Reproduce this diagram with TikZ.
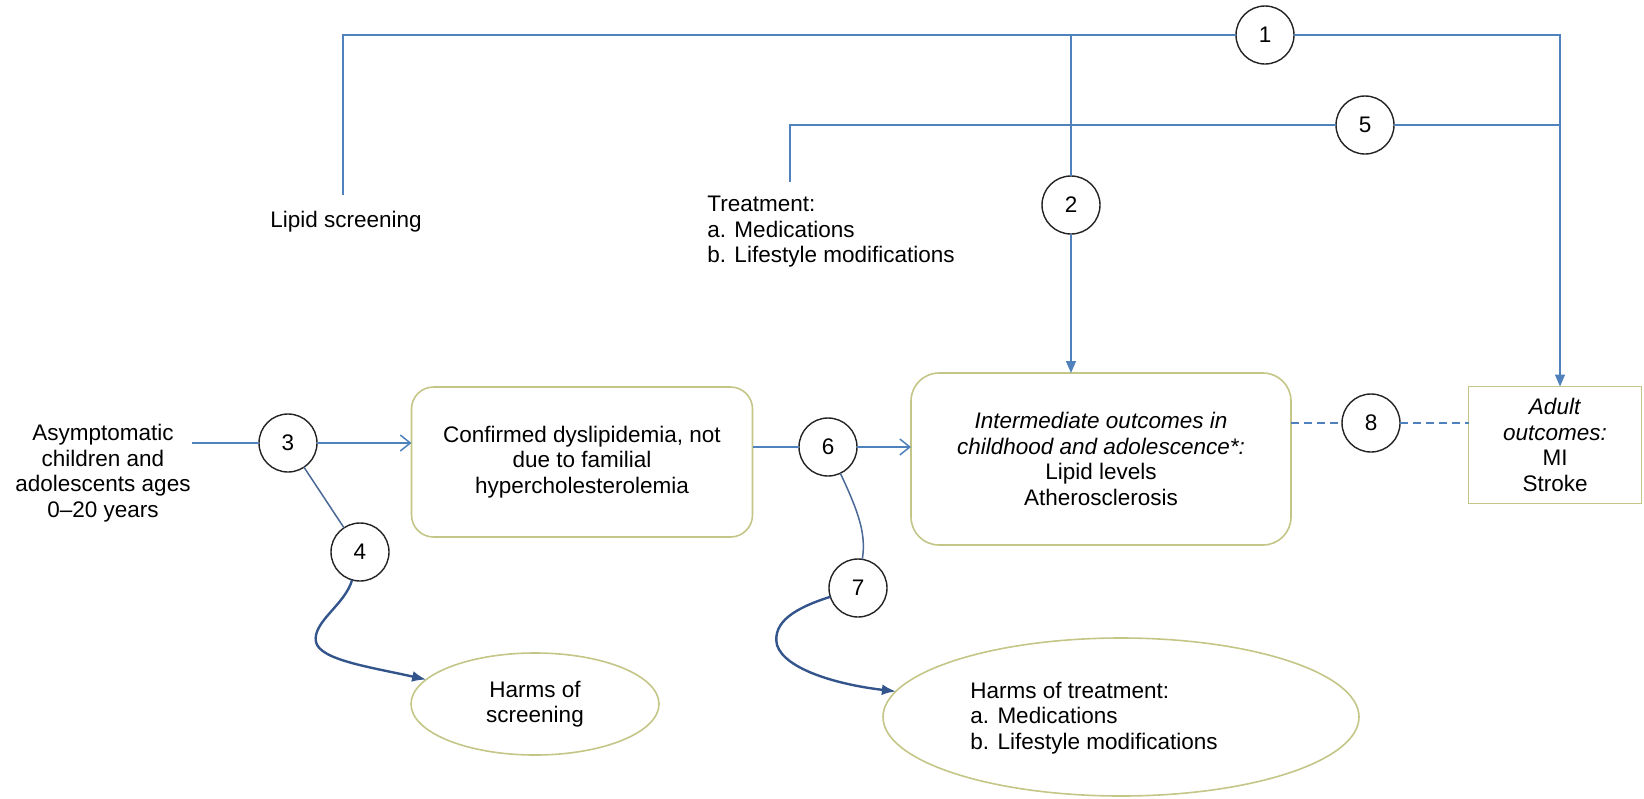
\documentclass[tikz,border=0pt]{standalone}
\usepackage{fontspec}
\setmainfont{Liberation Sans}
\usepackage{xcolor}
\usepackage{tikz}
\usetikzlibrary{arrows.meta,shapes.geometric}
\definecolor{lineblue}{RGB}{79,129,189}
\definecolor{linkblue}{RGB}{74,104,150}
\definecolor{harmblue}{RGB}{52,84,140}
\definecolor{boxolive}{RGB}{196,198,135}
\definecolor{ringgray}{RGB}{35,35,35}

\begin{document}
\begin{tikzpicture}[x=0.5pt,y=-0.5pt,
  font=\fontsize{11.25}{12.75}\selectfont,
  flow/.style={lineblue,line width=0.75pt},
  link/.style={linkblue,line width=0.75pt},
  harmarrow/.style={harmblue,line width=1.2pt,-{Latex[length=7pt,width=5.5pt]}},
  tip/.style={-{Triangle[length=6pt,width=5pt]}},
  openhead/.style={-{Straight Barb[length=5pt,width=8pt]}},
  dashflow/.style={lineblue,line width=0.75pt,dash pattern=on 4pt off 2.5pt},
  kq/.style={circle,draw=ringgray,line width=0.7pt,fill=white,minimum size=29pt,inner sep=0pt,outer sep=0pt},
  txt/.style={inner sep=2pt},
  roundbox/.style={draw=boxolive,line width=0.8pt,rounded corners=11pt,align=center,inner sep=0pt,outer sep=0pt},
  sqbox/.style={draw=boxolive,line width=0.8pt,align=center,inner sep=0pt,outer sep=0pt},
  oval/.style={ellipse,draw=boxolive,line width=0.8pt,align=center,inner sep=0pt,outer sep=0pt}]
  \useasboundingbox (0,0) rectangle (1644,798);

  \node[txt] (lipid) at (346,222) {Lipid screening};
  \node[txt,align=left,anchor=west] (treat) at (703,232) {Treatment:\\a. Medications\\b. Lifestyle modifications};
  \node[txt,align=center] (asym) at (103,473) {Asymptomatic\\children and\\adolescents ages\\0--20 years};

  \node[roundbox,minimum width=170.5pt,minimum height=75pt] (confirm) at (582,462) {Confirmed dyslipidemia, not\\due to familial\\hypercholesterolemia};
  \node[roundbox,rounded corners=14pt,minimum width=190pt,minimum height=86pt] (inter) at (1101,459) {\textit{Intermediate outcomes in}\\\textit{childhood and adolescence*:}\\Lipid levels\\Atherosclerosis};
  \node[sqbox,minimum width=86.5pt,minimum height=58.5pt] (adult) at (1555,445) {\textit{Adult}\\\textit{outcomes:}\\MI\\Stroke};
  \node[oval,minimum width=124pt,minimum height=51pt] (harmsc) at (535,704) {Harms of\\screening};
  \node[oval,minimum width=238pt,minimum height=79pt] (harmtr) at (1121,717) {};
  \node[txt,align=left,anchor=west] (harmtxt) at (966,718) {Harms of treatment:\\a. Medications\\b. Lifestyle modifications};

  \node[kq] (k1) at (1265,35) {1};
  \node[kq] (k5) at (1365,125) {5};
  \node[kq] (k2) at (1071,205) {2};
  \node[kq] (k3) at (288,443) {3};
  \node[kq] (k4) at (360,552) {4};
  \node[kq] (k6) at (828,447) {6};
  \node[kq] (k7) at (858,588) {7};
  \node[kq] (k8) at (1371,423) {8};

  \coordinate (lipidtop) at (343,195);
  \coordinate (topleft) at (343,35);
  \coordinate (topmid) at (1071,35);
  \coordinate (topright) at (1560,35);
  \coordinate (treattop) at (790,182);
  \coordinate (treatcorner) at (790,125);
  \coordinate (midright) at (1560,125);
  \coordinate (asymend) at (192,443);

  \draw[flow] (lipidtop) -- (topleft) -- (k1);
  \draw[flow,tip] (k1) -- (topright) -- (topright |- adult.north);
  \draw[flow] (topmid) -- (k2);
  \draw[flow,tip] (k2) -- (k2 |- inter.north);
  \draw[flow] (treattop) -- (treatcorner) -- (k5);
  \draw[flow] (k5) -- (midright);

  \draw[flow] (asymend) -- (k3);
  \draw[flow,openhead] (k3) -- (confirm.west |- k3);
  \draw[flow] (confirm.east |- k6) -- (k6);
  \draw[flow,openhead] (k6) -- (inter.west |- k6);
  \draw[dashflow] (inter.east |- k8) -- (k8);
  \draw[dashflow] (k8) -- (adult.west |- k8);

  \draw[link] (k3) -- (k4);
  \draw[link] (k6) .. controls (860,515) and (866,535) .. (k7);
  \draw[harmarrow] (k4) .. controls (345,605) and (312,622) .. (316,642) .. controls (320,660) and (370,667) .. (harmsc);
  \draw[harmarrow] (k7) .. controls (795,608) and (772,622) .. (777,645) .. controls (785,670) and (840,685) .. (harmtr);
\end{tikzpicture}
\end{document}
